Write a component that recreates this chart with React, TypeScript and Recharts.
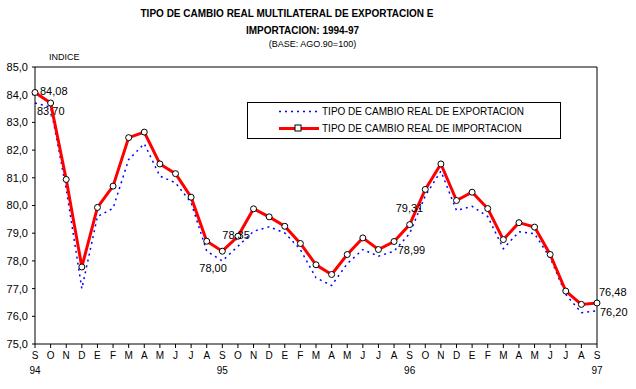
import { LineChart, Line, XAxis, YAxis, ReferenceLine, LabelList } from "recharts";

const months = [
  "S", "O", "N", "D", "E", "F", "M", "A", "M", "J", "J", "A",
  "S", "O", "N", "D", "E", "F", "M", "A", "M", "J", "J", "A",
  "S", "O", "N", "D", "E", "F", "M", "A", "M", "J", "J", "A",
  "S",
];
const yearMarks: Record<number, string> = { 0: "94", 12: "95", 24: "96", 36: "97" };

const exportacion = [
  83.7, 83.55, 80.6, 77.0, 79.6, 79.9, 81.66, 82.23, 81.06, 80.82, 80.1, 78.35,
  78.0, 78.53, 79.07, 79.23, 79.01, 78.41, 77.39, 77.11, 77.9, 78.41, 78.17, 78.35,
  78.99, 80.35, 81.24, 79.82, 79.97, 79.6, 78.44, 79.05, 78.98, 78.11, 76.79, 76.13,
  76.2,
];
const importacion = [
  84.08, 83.7, 80.94, 77.78, 79.93, 80.7, 82.45, 82.65, 81.5, 81.15, 80.3, 78.71,
  78.35, 78.89, 79.88, 79.59, 79.25, 78.63, 77.86, 77.51, 78.23, 78.83, 78.41, 78.7,
  79.31, 80.58, 81.5, 80.18, 80.48, 79.89, 78.77, 79.38, 79.22, 78.23, 76.91, 76.43,
  76.48,
];
const yTicks = [75, 76, 77, 78, 79, 80, 81, 82, 83, 84, 85];
const labeledPoints = [0, 12, 24, 36];

const data = months.map((m, i) => ({ i, m, exp: exportacion[i], imp: importacion[i] }));

const font = "'Liberation Sans', Arial, sans-serif";
const fmt = (v: number) => v.toFixed(2).replace(".", ",");

// label offsets: [dx, dy]
const impOffsets: Record<number, [number, number]> = {
  0: [5, -1],
  12: [0, -16],
  24: [-14, -17],
  36: [2, -11],
};
const expOffsets: Record<number, [number, number]> = {
  0: [2, 8],
  12: [-23, 7],
  24: [-12, 17],
  36: [3, 1],
};

const makeLabel = (offsets: Record<number, [number, number]>) => (props: any) => {
  const { x, y, index, value } = props;
  if (!labeledPoints.includes(index)) return null;
  const [dx, dy] = offsets[index];
  return (
    <text
      x={x + dx}
      y={y + dy}
      textAnchor="start"
      dominantBaseline="central"
      fontSize={11}
      fontFamily={font}
      fill="#000"
    >
      {fmt(value)}
    </text>
  );
};

const XTick = (props: any) => {
  const { x, y, payload } = props;
  const idx = payload.value as number;
  return (
    <g>
      <text x={x} y={y + 9} textAnchor="middle" fontSize={10} fontFamily={font} fill="#000">
        {months[idx]}
      </text>
      {yearMarks[idx] && (
        <text x={x} y={y + 24} textAnchor="middle" fontSize={10} fontFamily={font} fill="#000">
          {yearMarks[idx]}
        </text>
      )}
    </g>
  );
};

const LegendBox = () => (
  <svg width={315} height={38} style={{ position: "absolute", left: 247, top: 102 }}>
    <rect x={0.5} y={0.5} width={313} height={36} fill="#fff" stroke="#000" />
    <line x1={32} y1={9.5} x2={70} y2={9.5} stroke="#0000ff" strokeWidth={1.5} strokeDasharray="2 4" />
    <line x1={32} y1={26.5} x2={72} y2={26.5} stroke="#ff0000" strokeWidth={3} />
    <rect x={48} y={23} width={6} height={6} fill="#fff" stroke="#000" />
    <text x={75} y={13} fontSize={10} fontFamily={font} fill="#000">
      TIPO DE CAMBIO REAL DE EXPORTACION
    </text>
    <text x={75} y={30} fontSize={10} fontFamily={font} fill="#000">
      TIPO DE CAMBIO REAL DE IMPORTACION
    </text>
  </svg>
);

export default function App() {
  return (
    <div style={{ position: "absolute", left: 0, top: 0, width: 636, height: 389, background: "#fff" }}>
      <div style={{ position: "absolute", left: 0, width: 574, top: 8, textAlign: "center", fontFamily: font, fontWeight: "bold", fontSize: 10 }}>
        TIPO DE CAMBIO REAL MULTILATERAL DE EXPORTACION E
      </div>
      <div style={{ position: "absolute", left: 0, width: 605, top: 25, textAlign: "center", fontFamily: font, fontWeight: "bold", fontSize: 10 }}>
        IMPORTACION: 1994-97
      </div>
      <div style={{ position: "absolute", left: 0, width: 625, top: 39, textAlign: "center", fontFamily: font, fontSize: 9 }}>
        (BASE: AGO.90=100)
      </div>
      <svg width={60} height={14} style={{ position: "absolute", left: 48, top: 50 }}>
        <text x={1} y={10} fontSize={9} fontFamily={font} fill="#000">INDICE</text>
      </svg>
      <LineChart
        width={636}
        height={389}
        data={data}
        margin={{ top: 67, right: 39, left: 0, bottom: 0 }}
      >
        <XAxis
          dataKey="i"
          type="number"
          domain={[0, 36]}
          ticks={data.map((d) => d.i)}
          interval={0}
          height={45}
          stroke="#000"
          tickSize={4}
          tick={<XTick />}
        />
        <YAxis
          domain={[75, 85]}
          ticks={yTicks}
          width={35}
          stroke="#000"
          tickSize={3}
          tickMargin={4}
          interval={0}
          tick={{ fontSize: 11, fontFamily: font, fill: "#000" }}
          tickFormatter={(v: number) => v.toFixed(1).replace(".", ",")}
        />
        <ReferenceLine y={85} stroke="#000" />
        <ReferenceLine x={36} stroke="#000" />
        <Line
          dataKey="exp"
          stroke="#0000ff"
          strokeWidth={1.5}
          strokeDasharray="2 4"
          dot={false}
          isAnimationActive={false}
        >
          <LabelList dataKey="exp" content={makeLabel(expOffsets)} />
        </Line>
        <Line
          dataKey="imp"
          stroke="#ff0000"
          strokeWidth={3}
          dot={{ r: 3, fill: "#fff", stroke: "#000", strokeWidth: 1 }}
          isAnimationActive={false}
        >
          <LabelList dataKey="imp" content={makeLabel(impOffsets)} />
        </Line>
      </LineChart>
      <LegendBox />
    </div>
  );
}
